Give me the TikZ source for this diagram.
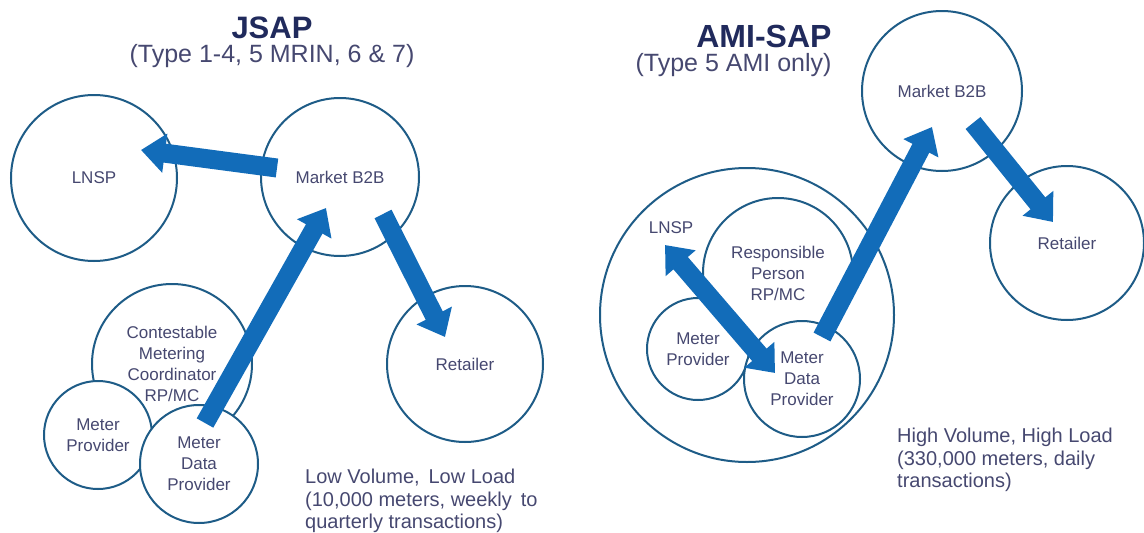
\documentclass[tikz,border=0pt]{standalone}
\usepackage{fontspec}
\setmainfont{Liberation Sans}
\usetikzlibrary{arrows.meta,calc}
\definecolor{ringblue}{RGB}{30,92,135}
\definecolor{flowblue}{RGB}{18,108,185}
\definecolor{labelgray}{RGB}{70,72,112}
\definecolor{titlenavy}{RGB}{32,42,92}
\tikzset{
  party/.style={circle, draw=ringblue, line width=2pt, fill=white, text=labelgray,
    align=center, inner sep=0pt, font=\fontsize{17}{21}\selectfont},
  flow/.style={draw=flowblue, line width=19pt, -{Triangle[width=38pt,length=24pt]}},
  flowboth/.style={flow, {Triangle[width=38pt,length=24pt]}-{Triangle[width=38pt,length=24pt]}},
  note/.style={text=labelgray, align=left, anchor=north west, inner sep=0pt,
    font=\fontsize{20}{22.5}\selectfont}
}
\begin{document}
\begin{tikzpicture}[x=1pt,y=-1pt]
    \useasboundingbox (0,0) rectangle (1144,533);

    % 左侧：JSAP 标题
    \node[text=titlenavy, font=\bfseries\fontsize{31}{36}\selectfont] (jtitle) at (272,28) {JSAP};
    \node[text=labelgray, font=\fontsize{25}{29}\selectfont] (jsub) at (272,56) {(Type 1-4, 5 MRIN, 6 \& 7)};

    % 左侧参与方
    \node[party, minimum size=166pt] (jlnsp) at (94,178) {LNSP};
    \node[party, minimum size=158pt] (jmkt) at (340,177) {Market B2B};
    \node[party, minimum size=156pt] (jret) at (465,364) {Retailer};
    \node[party, minimum size=160pt] (jcmc) at (172,364) {Contestable\\Metering\\Coordinator\\RP/MC};
    \node[party, minimum size=108pt] (jmp) at (98,435) {Meter\\Provider};
    \node[party, minimum size=118pt] (jmdp) at (199,464) {Meter\\Data\\Provider};

    % 左侧数据流
    \draw[flow] ($(jmkt.center)+(-63,-9)$) -- ($(jlnsp.center)+(47,-28)$);
    \draw[flow] ($(jmdp.center)+(6,-41)$) -- ($(jmkt.center)+(-14,31)$);
    \draw[flow] ($(jmkt.center)+(43,37)$) -- ($(jret.center)+(-20,-27)$);

    \node[note] (jnote) at (305,469) {Low Volume,\, Low Load\\(10,000 meters, weekly\, to\\quarterly transactions)};

    % 右侧：AMI-SAP 标题
    \node[anchor=east, text=titlenavy, font=\bfseries\fontsize{32}{36}\selectfont] (atitle) at (835,36) {AMI-SAP};
    \node[anchor=east, text=labelgray, font=\fontsize{25}{29}\selectfont] (asub) at (835,65) {(Type 5 AMI only)};

    % 右侧参与方
    \node[party, minimum size=294pt] (abig) at (747,315) {};
    \node[party, minimum size=150pt] (arp) at (778,273) {Responsible\\Person\\RP/MC};
    \node[party, minimum size=102pt] (amp) at (698,349) {Meter\\Provider};
    \node[party, minimum size=116pt] (amdp) at (802,379) {Meter\\Data\\Provider};
    \node[party, minimum size=160pt] (amkt) at (942,91) {Market B2B};
    \node[party, minimum size=154pt] (aret) at (1067,243) {Retailer};
    \node[text=labelgray, inner sep=0pt, font=\fontsize{17}{21}\selectfont] (alnsp) at (671,228) {LNSP};

    % 右侧数据流
    \draw[flowboth] ($(alnsp.center)+(-6,17)$) -- ($(amdp.center)+(-27,-6)$);
    \draw[flow] ($(amdp.center)+(20,-42)$) -- ($(amkt.center)+(-10,36)$);
    \draw[flow] ($(amkt.center)+(31,32)$) -- ($(aret.center)+(-14,-21)$);

    \node[note] (anote) at (897,428) {High Volume, High Load\\(330,000 meters, daily\\transactions)};
\end{tikzpicture}
\end{document}
